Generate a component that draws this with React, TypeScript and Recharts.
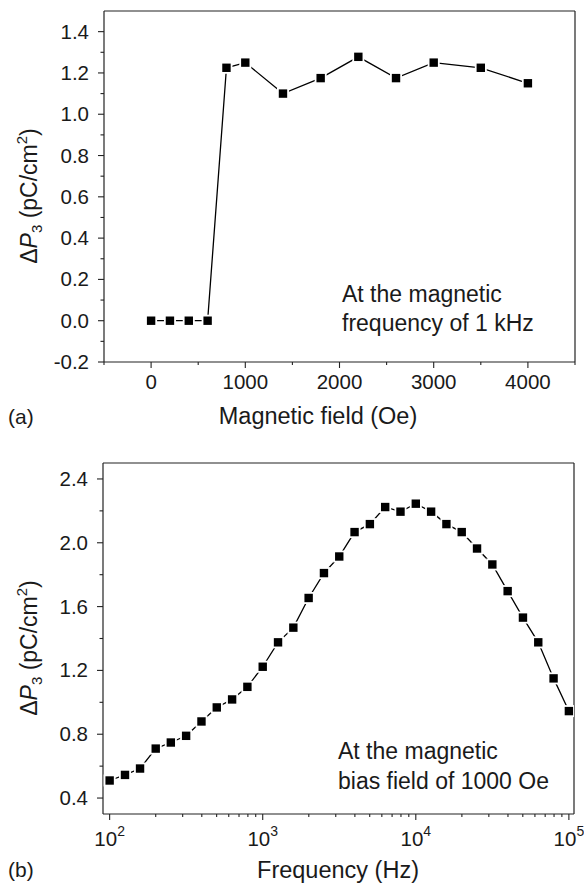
import React from 'react'
import { LineChart, Line, XAxis, YAxis, ReferenceLine } from 'recharts'

// (a) field sweep at 1 kHz
const fieldOe = [0, 200, 400, 600, 800, 1000, 1400, 1800, 2200, 2600, 3000, 3500, 4000]
const dP3Field = [0, 0, 0, 0, 1.225, 1.25, 1.1, 1.175, 1.278, 1.175, 1.25, 1.225, 1.15]

// (b) frequency sweep at 1000 Oe
const freqHz = [
  100, 126, 158, 200, 251, 316, 398, 501, 631, 794,
  1000, 1259, 1585, 1995, 2512, 3162, 3981, 5012, 6310, 7943,
  10000, 12589, 15849, 19953, 25119, 31623, 39811, 50119, 63096, 79433, 100000,
]
const dP3Freq = [
  0.51, 0.545, 0.585, 0.71, 0.748, 0.79, 0.88, 0.968, 1.018, 1.097,
  1.223, 1.376, 1.468, 1.654, 1.81, 1.914, 2.067, 2.117, 2.224, 2.195,
  2.245, 2.195, 2.117, 2.067, 1.964, 1.864, 1.697, 1.531, 1.376, 1.15, 0.945,
]

// ticks
const fieldTicks = [-500, 0, 500, 1000, 1500, 2000, 2500, 3000, 3500, 4000, 4500]
const fieldTickLabels = [0, 1000, 2000, 3000, 4000]
const dP3FieldTicks = [-0.2, -0.1, 0, 0.1, 0.2, 0.3, 0.4, 0.5, 0.6, 0.7, 0.8, 0.9, 1.0, 1.1, 1.2, 1.3, 1.4]
const dP3FieldTickLabels = [-0.2, 0, 0.2, 0.4, 0.6, 0.8, 1.0, 1.2, 1.4]
const freqTicks = [
  100, 200, 300, 400, 500, 600, 700, 800, 900,
  1000, 2000, 3000, 4000, 5000, 6000, 7000, 8000, 9000,
  10000, 20000, 30000, 40000, 50000, 60000, 70000, 80000, 90000, 100000,
]
const freqTickLabels = [100, 1000, 10000, 100000]
const dP3FreqTicks = [0.4, 0.6, 0.8, 1.0, 1.2, 1.4, 1.6, 1.8, 2.0, 2.2, 2.4]
const dP3FreqTickLabels = [0.4, 0.8, 1.2, 1.6, 2.0, 2.4]

const FONT = '"Liberation Sans", Arial, sans-serif'
const INK = '#1a1a1a'
const AXIS = '#222'

const isIn = (list: number[], v: number) => list.some((t) => Math.abs(t - v) < 1e-6)

const SquareDot = (props: any) => {
  const { cx, cy, index } = props
  if (cx == null || cy == null) return <g key={index} />
  return (
    <g key={index}>
      <rect x={cx - 6} y={cy - 6} width={12} height={12} fill="#fff" />
      <rect x={cx - 4.2} y={cy - 4.2} width={8.4} height={8.4} fill="#000" />
    </g>
  )
}

const makeXTick = (labels: number[], fmt: 'plain' | 'pow') => (props: any) => {
  const { x, y, payload } = props
  const v = payload.value
  const major = isIn(labels, v)
  return (
    <g>
      <line x1={x} x2={x} y1={y} y2={y + (major ? 6 : 3)} stroke={AXIS} strokeWidth={1.1} />
      {major && fmt === 'plain' && (
        <text x={x} y={y + 27} textAnchor="middle" fontSize={20.5} fontFamily={FONT} fill={INK}>
          {v}
        </text>
      )}
      {major && fmt === 'pow' && (
        <text x={x} y={y + 32} textAnchor="middle" fontSize={20.5} fontFamily={FONT} fill={INK}>
          10
          <tspan dy={-10} fontSize={14}>
            {Math.round(Math.log10(v))}
          </tspan>
        </text>
      )}
    </g>
  )
}

const makeYTick = (labels: number[]) => (props: any) => {
  const { x, y, payload } = props
  const v = payload.value
  const major = isIn(labels, v)
  return (
    <g>
      <line x1={x - (major ? 6 : 3.5)} x2={x} y1={y} y2={y} stroke={AXIS} strokeWidth={1.1} />
      {major && (
        <text x={x - 15} y={y + 7} textAnchor="end" fontSize={20.5} fontFamily={FONT} fill={INK}>
          {v.toFixed(1)}
        </text>
      )}
    </g>
  )
}

const YTitle = ({ cx, cy }: { cx: number; cy: number }) => (
  <text
    x={cx}
    y={cy}
    transform={`rotate(-90 ${cx} ${cy})`}
    textAnchor="middle"
    fontSize={23}
    fontFamily={FONT}
    fill={INK}
  >
    Δ<tspan fontStyle="italic">P</tspan>
    <tspan dy={5} fontSize={15}>3</tspan>
    <tspan dy={-5}> (pC/cm</tspan>
    <tspan dy={-10} fontSize={15}>2</tspan>
    <tspan dy={10}>)</tspan>
  </text>
)

const fieldData = fieldOe.map((x, i) => ({ x, y: dP3Field[i] }))
const freqData = freqHz.map((x, i) => ({ x, y: dP3Freq[i] }))

const App = () => {
  return (
    <div style={{ position: 'absolute', left: 0, top: 0, width: 584, height: 884, background: '#fff' }}>
      {/* panel (a) */}
      <div style={{ position: 'absolute', left: 0, top: 0, width: 584, height: 440 }}>
        <LineChart width={584} height={440} data={fieldData} margin={{ top: 11, right: 9, bottom: 0, left: 0 }}>
          <XAxis
            type="number"
            dataKey="x"
            domain={[-500, 4500]}
            ticks={fieldTicks}
            interval={0}
            height={78}
            tickSize={0}
            tickMargin={0}
            tickLine={false}
            axisLine={{ stroke: AXIS, strokeWidth: 1.2 }}
            tick={makeXTick(fieldTickLabels, 'plain')}
          />
          <YAxis
            type="number"
            domain={[-0.2, 1.5]}
            ticks={dP3FieldTicks}
            interval={0}
            width={104}
            tickSize={0}
            tickMargin={0}
            tickLine={false}
            axisLine={{ stroke: AXIS, strokeWidth: 1.2 }}
            tick={makeYTick(dP3FieldTickLabels)}
          />
          <ReferenceLine y={1.5} stroke={AXIS} strokeWidth={1.2} />
          <ReferenceLine x={4500} stroke={AXIS} strokeWidth={1.2} />
          <Line
            type="linear"
            dataKey="y"
            stroke="#000"
            strokeWidth={1.3}
            dot={SquareDot}
            activeDot={false}
            isAnimationActive={false}
          />
        </LineChart>
        <svg width={584} height={440} style={{ position: 'absolute', left: 0, top: 0, pointerEvents: 'none' }}>
          <YTitle cx={37} cy={196} />
          <text x={318} y={424} textAnchor="middle" fontSize={23.5} fontFamily={FONT} fill={INK}>
            Magnetic field (Oe)
          </text>
          <text x={8} y={424} fontSize={21} fontFamily={FONT} fill={INK}>(a)</text>
          <text x={342} y={302} fontSize={23} fontFamily={FONT} fill={INK}>At the magnetic</text>
          <text x={342} y={331} fontSize={23} fontFamily={FONT} fill={INK}>frequency of 1 kHz</text>
        </svg>
      </div>

      {/* panel (b) */}
      <div style={{ position: 'absolute', left: 0, top: 440, width: 584, height: 444 }}>
        <LineChart width={584} height={444} data={freqData} margin={{ top: 23, right: 10, bottom: 0, left: 0 }}>
          <XAxis
            type="number"
            dataKey="x"
            scale="log"
            domain={[90.5, 108000]}
            allowDataOverflow
            ticks={freqTicks}
            interval={0}
            height={70}
            tickSize={0}
            tickMargin={0}
            tickLine={false}
            axisLine={{ stroke: AXIS, strokeWidth: 1.2 }}
            tick={makeXTick(freqTickLabels, 'pow')}
          />
          <YAxis
            type="number"
            domain={[0.3, 2.5]}
            ticks={dP3FreqTicks}
            interval={0}
            width={103}
            tickSize={0}
            tickMargin={0}
            tickLine={false}
            axisLine={{ stroke: AXIS, strokeWidth: 1.2 }}
            tick={makeYTick(dP3FreqTickLabels)}
          />
          <ReferenceLine y={2.5} stroke={AXIS} strokeWidth={1.2} />
          <ReferenceLine x={108000} stroke={AXIS} strokeWidth={1.2} />
          <Line
            type="linear"
            dataKey="y"
            stroke="#000"
            strokeWidth={1.3}
            dot={SquareDot}
            activeDot={false}
            isAnimationActive={false}
          />
        </LineChart>
        <svg width={584} height={444} style={{ position: 'absolute', left: 0, top: 0, pointerEvents: 'none' }}>
          <YTitle cx={37} cy={208} />
          <text x={338} y={437.5} textAnchor="middle" fontSize={23.5} fontFamily={FONT} fill={INK}>
            Frequency (Hz)
          </text>
          <text x={8} y={437} fontSize={21} fontFamily={FONT} fill={INK}>(b)</text>
          <text x={338} y={319} fontSize={23} fontFamily={FONT} fill={INK}>At the magnetic</text>
          <text x={338} y={349} fontSize={23} fontFamily={FONT} fill={INK}>bias field of 1000 Oe</text>
        </svg>
      </div>
    </div>
  )
}

export default App
